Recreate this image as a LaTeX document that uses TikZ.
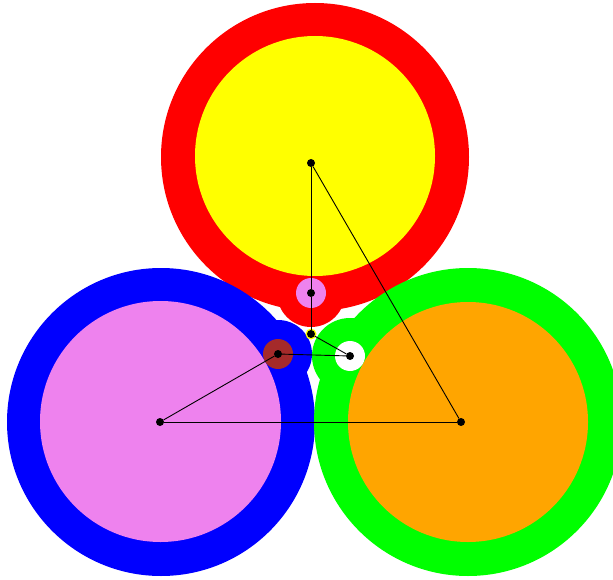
\documentclass[tikz,border=0pt]{standalone}
\definecolor{cRed}{RGB}{255,0,0}
\definecolor{cBlue}{RGB}{0,0,255}
\definecolor{cGreen}{RGB}{0,255,0}
\definecolor{cYellow}{RGB}{255,255,0}
\definecolor{cViolet}{RGB}{238,130,238}
\definecolor{cOrange}{RGB}{255,165,0}
\definecolor{cBrown}{RGB}{165,42,42}
\begin{document}
\begin{tikzpicture}[x=1pt,y=-1pt,
  dot/.style={circle,fill=black,inner sep=0pt,minimum size=8pt},
  edge/.style={draw=black,line width=0.9pt}]
\useasboundingbox (0,0) rectangle (613,580);
\fill[white] (0,0) rectangle (613,580);
\clip (0,0) rectangle (613,580);
% outer rings and bumps
\fill[cRed] (315,157) circle[radius=154pt];
\fill[cBlue] (161,422) circle[radius=154pt];
\fill[cGreen] (468,422) circle[radius=154pt];
\fill[cRed] (311,293) circle[radius=34pt];
\fill[cBlue] (278,354) circle[radius=34pt];
\fill[cGreen] (350,356) circle[radius=38pt];
% inner fills
\fill[cYellow] (315,156) circle[radius=120pt];
\fill[cViolet] (160.5,421.5) circle[radius=120.5pt];
\fill[cOrange] (468,422) circle[radius=120pt];
% small inner circles
\fill[cViolet] (311,293) circle[radius=15pt];
\fill[cBrown] (278,354) circle[radius=15pt];
\fill[white] (350,356) circle[radius=15pt];
\fill[cYellow] (311,334) circle[radius=5.5pt];
% dots
\node[dot] (T) at (311,163) {};
\node[dot] (L) at (160,422) {};
\node[dot] (R) at (461,422) {};
\node[dot] (P) at (311,293) {};
\node[dot] (Q) at (311,334) {};
\node[dot] (B) at (278,354) {};
\node[dot] (W) at (350,356) {};
% edges
\draw[edge] (T) -- (P);
\draw[edge] (P) -- (Q);
\draw[edge] (Q) -- (W);
\draw[edge] (B) -- (W);
\draw[edge] (L) -- (B);
\draw[edge] (L) -- (R);
\draw[edge] (R) -- (T);
\end{tikzpicture}
\end{document}
